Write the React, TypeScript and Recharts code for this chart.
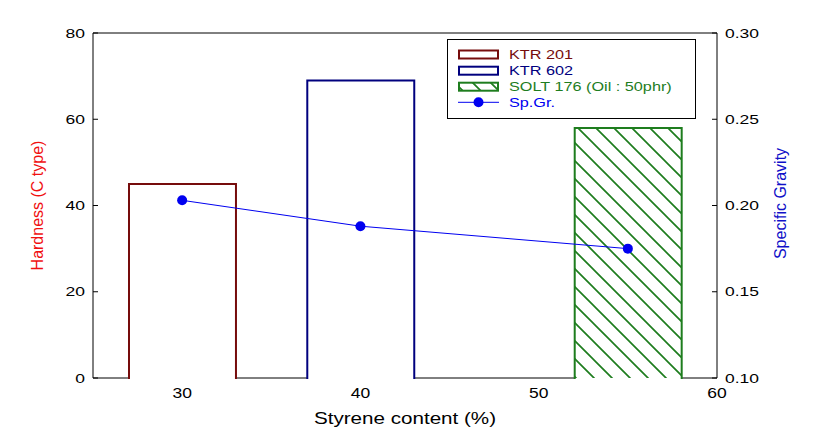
import {
  ComposedChart,
  Bar,
  Line,
  XAxis,
  YAxis,
  Legend,
  ReferenceLine,
} from "recharts";

// styrene content of each grade (%)
const styrene = [30, 40, 55];
const grades = ["KTR 201", "KTR 602", "SOLT 176 (Oil : 50phr)"];
const hardness = [45, 69, 58];
const spGr = [0.203, 0.188, 0.175];

const xTicks = [30, 40, 50, 60];
const hardTicks = [0, 20, 40, 60, 80];
const sgTicks = [0.1, 0.15, 0.2, 0.25, 0.3];

const W = 838;
const H = 445;
const LEFT_W = 93;
const RIGHT_W = 121;
const TOP = 33;
const XAXIS_H = 67;
const X_DOMAIN = [25, 60];
const BAR_SPAN = 6; // bar width in x units
const PX_PER_UNIT = (W - LEFT_W - RIGHT_W) / (X_DOMAIN[1] - X_DOMAIN[0]);

const BAR_COLORS = ["#760c0c", "#00007e", "#1e7d1e"];
const SG_COLOR = "#0000f0";
const FONT = "'Liberation Sans', Arial, sans-serif";

const data = styrene.map((s, i) => ({
  styrene: s,
  grade: grades[i],
  hardness: hardness[i],
  sg: spGr[i],
}));

function HatchDefs({ id }: { id: string }) {
  return (
    <defs>
      <pattern id={id} patternUnits="userSpaceOnUse" width={18} height={18}>
        <path
          d="M0,0 L18,18 M-3,15 L3,21 M15,-3 L21,3"
          stroke={BAR_COLORS[2]}
          strokeWidth={1.7}
        />
      </pattern>
    </defs>
  );
}

function OpenBar(props: any) {
  const { x, y, width, height, index } = props;
  if (!height || height <= 0) return <g />;
  const cx = x + width / 2;
  const w = BAR_SPAN * PX_PER_UNIT;
  const l = cx - w / 2;
  const r = cx + w / 2;
  const b = y + height;
  const hatched = index === 2;
  return (
    <g>
      {hatched && <HatchDefs id="soltHatch" />}
      <rect x={l} y={y} width={w} height={height + 1.5} fill="#fff" />
      {hatched && <rect x={l} y={y} width={w} height={height} fill="url(#soltHatch)" />}
      <path
        d={`M${l},${b + 1}V${y}H${r}V${b + 1}`}
        fill="none"
        stroke={BAR_COLORS[index]}
        strokeWidth={2}
      />
    </g>
  );
}

function StretchText({ x, y, anchor, size, sx, dy, fill = "#000", children }: any) {
  return (
    <text
      transform={`translate(${x},${y}) scale(${sx},1)`}
      textAnchor={anchor}
      dy={dy}
      fontSize={size}
      fontFamily={FONT}
      fill={fill}
    >
      {children}
    </text>
  );
}

function LegendBox() {
  const rows = [15.5, 31.7, 47.7, 63.3];
  return (
    <svg width={250} height={81} style={{ display: "block" }}>
      <HatchDefs id="legendHatch" />
      <rect x={0.5} y={0.5} width={248} height={79} fill="#fff" stroke="#000" strokeWidth={1} />
      {[0, 1, 2].map((i) => (
        <g key={i}>
          {i === 2 && <rect x={12} y={rows[i] - 4} width={39} height={8} fill="url(#legendHatch)" />}
          <rect
            x={12}
            y={rows[i] - 4}
            width={39}
            height={8}
            fill="none"
            stroke={BAR_COLORS[i]}
            strokeWidth={2}
          />
          <StretchText x={62} y={rows[i]} anchor="start" size={12.5} sx={1.3} dy="0.36em" fill={BAR_COLORS[i]}>
            {grades[i]}
          </StretchText>
        </g>
      ))}
      <line x1={11} x2={52} y1={rows[3]} y2={rows[3]} stroke={SG_COLOR} strokeWidth={1} />
      <circle cx={31.5} cy={rows[3]} r={5} fill={SG_COLOR} />
      <StretchText x={62} y={rows[3]} anchor="start" size={12.5} sx={1.3} dy="0.36em" fill={SG_COLOR}>
        Sp.Gr.
      </StretchText>
    </svg>
  );
}

export default function App() {
  return (
    <div style={{ position: "absolute", left: 0, top: 0, width: W, height: H, background: "#fff" }}>
      <ComposedChart
        width={W}
        height={H}
        data={data}
        margin={{ top: TOP, right: 0, bottom: 0, left: 0 }}
      >
        <XAxis
          dataKey="styrene"
          type="number"
          domain={X_DOMAIN}
          ticks={xTicks}
          height={XAXIS_H}
          tickLine={false}
          tickSize={0}
          tickMargin={10}
          axisLine={{ stroke: "#000" }}
          tick={(p: any) => (
            <StretchText x={p.x} y={p.y} anchor="middle" size={14} sx={1.25} dy="0.71em">
              {p.payload.value}
            </StretchText>
          )}
          label={(p: any) => (
            <StretchText
              x={p.viewBox.x + p.viewBox.width / 2}
              y={p.viewBox.y + 46}
              anchor="middle"
              size={16.5}
              sx={1.25}
              dy={0}
            >
              Styrene content (%)
            </StretchText>
          )}
        />
        <YAxis
          yAxisId="left"
          orientation="left"
          width={LEFT_W}
          domain={[0, 80]}
          ticks={hardTicks}
          tickSize={-5}
          tickMargin={13}
          axisLine={{ stroke: "#000" }}
          tickLine={{ stroke: "#000" }}
          tick={(p: any) => (
            <StretchText x={p.x} y={p.y} anchor="end" size={12.5} sx={1.4} dy="0.36em">
              {p.payload.value}
            </StretchText>
          )}
          label={(p: any) => (
            <text
              transform={`translate(${p.viewBox.x + 37},${p.viewBox.y + p.viewBox.height / 2}) rotate(-90)`}
              textAnchor="middle"
              dy="0.35em"
              fontSize={16}
              fontFamily={FONT}
              fill="#f01010"
            >
              Hardness (C type)
            </text>
          )}
        />
        <YAxis
          yAxisId="right"
          orientation="right"
          width={RIGHT_W}
          domain={[0.1, 0.3]}
          ticks={sgTicks}
          tickSize={-5}
          tickMargin={13}
          axisLine={{ stroke: "#000" }}
          tickLine={{ stroke: "#000" }}
          tick={(p: any) => (
            <StretchText x={p.x} y={p.y} anchor="start" size={12.5} sx={1.4} dy="0.36em">
              {Number(p.payload.value).toFixed(2)}
            </StretchText>
          )}
          label={(p: any) => (
            <text
              transform={`translate(${p.viewBox.x + 63},${p.viewBox.y + p.viewBox.height / 2 - 2}) rotate(-90)`}
              textAnchor="middle"
              dy="0.35em"
              fontSize={16}
              fontFamily={FONT}
              fill="#1010c8"
            >
              Specific Gravity
            </text>
          )}
        />
        <ReferenceLine yAxisId="left" y={80} stroke="#000" strokeWidth={1} />
        <Bar
          yAxisId="left"
          dataKey="hardness"
          barSize={BAR_SPAN * PX_PER_UNIT}
          shape={OpenBar}
          zIndex={550}
          isAnimationActive={false}
        />
        <Line
          yAxisId="right"
          dataKey="sg"
          stroke={SG_COLOR}
          strokeWidth={1}
          dot={{ r: 5, fill: SG_COLOR, stroke: "none" }}
          activeDot={false}
          zIndex={600}
          isAnimationActive={false}
        />
        <Legend
          layout="vertical"
          align="center"
          verticalAlign="middle"
          wrapperStyle={{ position: "absolute", left: 447, top: 39, width: 250, height: 81 }}
          content={() => <LegendBox />}
        />
      </ComposedChart>
    </div>
  );
}
